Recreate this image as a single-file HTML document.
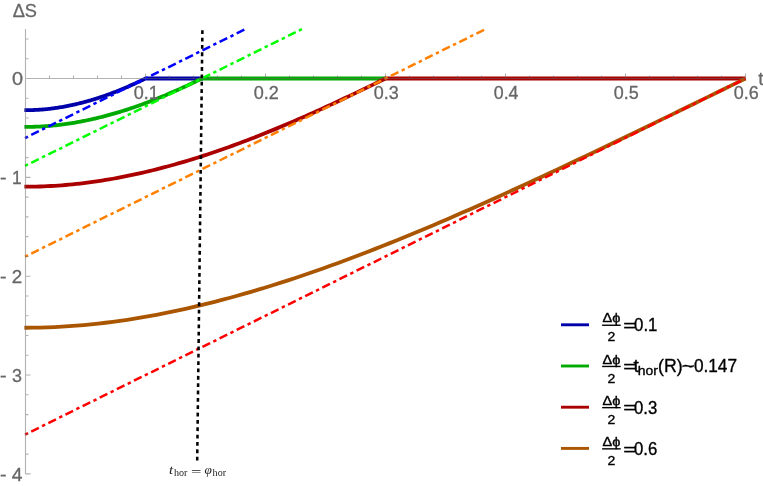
<!DOCTYPE html>
<html><head><meta charset="utf-8"><title>plot</title><style>html,body{margin:0;padding:0;background:#fff;}body{width:763px;height:486px;overflow:hidden;position:relative;font-family:"Liberation Sans",sans-serif;}</style></head><body>
<svg width="763" height="486" viewBox="0 0 763 486" style="will-change:transform;display:block;position:absolute;left:0;top:0">
<rect width="763" height="486" fill="#fff"/>
<path d="M24.40,110.20 L25.50,110.20 L26.71,110.20 L27.92,110.19 L29.14,110.17 L30.35,110.14 L31.56,110.11 L32.77,110.07 L33.98,110.02 L35.20,109.97 L36.41,109.91 L37.62,109.84 L38.83,109.76 L40.05,109.68 L41.26,109.59 L42.47,109.49 L43.68,109.39 L44.89,109.28 L46.11,109.16 L47.32,109.04 L48.53,108.91 L49.74,108.77 L50.95,108.62 L52.17,108.47 L53.38,108.31 L54.59,108.15 L55.80,107.98 L57.02,107.80 L58.23,107.61 L59.44,107.42 L60.65,107.22 L61.86,107.02 L63.08,106.81 L64.29,106.59 L65.50,106.37 L66.71,106.13 L67.92,105.90 L69.14,105.65 L70.35,105.40 L71.56,105.15 L72.77,104.89 L73.98,104.62 L75.20,104.34 L76.41,104.06 L77.62,103.77 L78.83,103.48 L80.05,103.18 L81.26,102.87 L82.47,102.56 L83.68,102.24 L84.89,101.92 L86.11,101.59 L87.32,101.25 L88.53,100.91 L89.74,100.56 L90.95,100.20 L92.17,99.84 L93.38,99.48 L94.59,99.10 L95.80,98.73 L97.02,98.34 L98.23,97.95 L99.44,97.56 L100.65,97.16 L101.86,96.75 L103.08,96.34 L104.29,95.92 L105.50,95.49 L106.71,95.06 L107.92,94.63 L109.14,94.19 L110.35,93.74 L111.56,93.29 L112.77,92.83 L113.98,92.37 L115.20,91.90 L116.41,91.43 L117.62,90.95 L118.83,90.46 L120.05,89.97 L121.26,89.48 L122.47,88.98 L123.68,88.47 L124.89,87.96 L126.11,87.44 L127.32,86.92 L128.53,86.40 L129.74,85.86 L130.95,85.33 L132.17,84.79 L133.38,84.24 L134.59,83.69 L135.80,83.13 L137.02,82.57 L138.23,82.00 L139.44,81.43 L140.65,80.85 L141.86,80.27 L143.08,79.69 L144.29,79.10 L145.50,78.50 L203.10,78.50" stroke="#0000aa" stroke-width="3.8" fill="none" stroke-linejoin="round"/>
<path d="M24.40,126.91 L25.50,126.91 L27.28,126.90 L29.06,126.88 L30.85,126.85 L32.63,126.81 L34.41,126.76 L36.19,126.70 L37.97,126.62 L39.75,126.54 L41.54,126.44 L43.32,126.33 L45.10,126.21 L46.88,126.08 L48.66,125.94 L50.45,125.79 L52.23,125.62 L54.01,125.45 L55.79,125.26 L57.57,125.06 L59.35,124.86 L61.14,124.64 L62.92,124.41 L64.70,124.17 L66.48,123.92 L68.26,123.66 L70.05,123.39 L71.83,123.11 L73.61,122.82 L75.39,122.52 L77.17,122.21 L78.95,121.89 L80.74,121.56 L82.52,121.22 L84.30,120.86 L86.08,120.50 L87.86,120.13 L89.65,119.75 L91.43,119.36 L93.21,118.96 L94.99,118.55 L96.77,118.13 L98.55,117.70 L100.34,117.26 L102.12,116.81 L103.90,116.36 L105.68,115.89 L107.46,115.41 L109.25,114.93 L111.03,114.43 L112.81,113.93 L114.59,113.42 L116.37,112.90 L118.15,112.36 L119.94,111.83 L121.72,111.28 L123.50,110.72 L125.28,110.15 L127.06,109.58 L128.85,109.00 L130.63,108.41 L132.41,107.81 L134.19,107.20 L135.97,106.58 L137.75,105.96 L139.54,105.32 L141.32,104.68 L143.10,104.03 L144.88,103.38 L146.66,102.71 L148.45,102.04 L150.23,101.36 L152.01,100.67 L153.79,99.97 L155.57,99.27 L157.35,98.55 L159.14,97.83 L160.92,97.11 L162.70,96.37 L164.48,95.63 L166.26,94.88 L168.05,94.12 L169.83,93.36 L171.61,92.59 L173.39,91.81 L175.17,91.03 L176.95,90.24 L178.74,89.44 L180.52,88.64 L182.30,87.82 L184.08,87.01 L185.86,86.18 L187.65,85.35 L189.43,84.52 L191.21,83.67 L192.99,82.83 L194.77,81.97 L196.55,81.11 L198.34,80.25 L200.12,79.38 L201.90,78.50 L386.10,78.50" stroke="#00aa00" stroke-width="3.8" fill="none" stroke-linejoin="round"/>
<path d="M24.40,186.72 L25.50,186.72 L29.14,186.71 L32.77,186.66 L36.41,186.59 L40.05,186.49 L43.68,186.36 L47.32,186.20 L50.95,186.01 L54.59,185.80 L58.23,185.56 L61.86,185.29 L65.50,184.99 L69.14,184.67 L72.77,184.32 L76.41,183.94 L80.05,183.53 L83.68,183.10 L87.32,182.65 L90.95,182.17 L94.59,181.66 L98.23,181.13 L101.86,180.57 L105.50,179.99 L109.14,179.38 L112.77,178.75 L116.41,178.09 L120.05,177.41 L123.68,176.71 L127.32,175.98 L130.95,175.23 L134.59,174.46 L138.23,173.66 L141.86,172.84 L145.50,172.00 L149.14,171.13 L152.77,170.25 L156.41,169.34 L160.05,168.41 L163.68,167.46 L167.32,166.49 L170.95,165.49 L174.59,164.48 L178.23,163.44 L181.86,162.39 L185.50,161.32 L189.14,160.22 L192.77,159.11 L196.41,157.97 L200.05,156.82 L203.68,155.65 L207.32,154.46 L210.95,153.25 L214.59,152.03 L218.23,150.78 L221.86,149.52 L225.50,148.24 L229.14,146.94 L232.77,145.63 L236.41,144.30 L240.05,142.95 L243.68,141.59 L247.32,140.21 L250.95,138.81 L254.59,137.40 L258.23,135.98 L261.86,134.54 L265.50,133.08 L269.14,131.61 L272.77,130.13 L276.41,128.63 L280.05,127.12 L283.68,125.59 L287.32,124.05 L290.95,122.50 L294.59,120.93 L298.23,119.36 L301.86,117.77 L305.50,116.16 L309.14,114.55 L312.77,112.93 L316.41,111.29 L320.05,109.64 L323.68,107.99 L327.32,106.32 L330.95,104.64 L334.59,102.96 L338.23,101.26 L341.86,99.55 L345.50,97.84 L349.14,96.12 L352.77,94.39 L356.41,92.65 L360.05,90.90 L363.68,89.15 L367.32,87.39 L370.95,85.63 L374.59,83.85 L378.23,82.07 L381.86,80.29 L385.50,78.50 L745.50,78.50" stroke="#aa0000" stroke-width="3.8" fill="none" stroke-linejoin="round"/>
<path d="M24.40,327.75 L25.50,327.75 L32.77,327.71 L40.05,327.58 L47.32,327.36 L54.59,327.07 L61.86,326.68 L69.14,326.22 L76.41,325.68 L83.68,325.06 L90.95,324.37 L98.23,323.59 L105.50,322.74 L112.77,321.82 L120.05,320.83 L127.32,319.76 L134.59,318.62 L141.86,317.42 L149.14,316.15 L156.41,314.81 L163.68,313.40 L170.95,311.93 L178.23,310.40 L185.50,308.80 L192.77,307.15 L200.05,305.43 L207.32,303.66 L214.59,301.82 L221.86,299.93 L229.14,297.99 L236.41,295.99 L243.68,293.94 L250.95,291.84 L258.23,289.68 L265.50,287.48 L272.77,285.23 L280.05,282.93 L287.32,280.58 L294.59,278.19 L301.86,275.75 L309.14,273.27 L316.41,270.74 L323.68,268.18 L330.95,265.57 L338.23,262.93 L345.50,260.24 L352.77,257.52 L360.05,254.76 L367.32,251.97 L374.59,249.14 L381.86,246.28 L389.14,243.39 L396.41,240.46 L403.68,237.50 L410.95,234.52 L418.23,231.50 L425.50,228.46 L432.77,225.39 L440.05,222.29 L447.32,219.17 L454.59,216.02 L461.86,212.85 L469.14,209.66 L476.41,206.44 L483.68,203.21 L490.95,199.95 L498.23,196.68 L505.50,193.38 L512.77,190.07 L520.05,186.74 L527.32,183.39 L534.59,180.03 L541.86,176.66 L549.14,173.27 L556.41,169.86 L563.68,166.44 L570.95,163.02 L578.23,159.58 L585.50,156.12 L592.77,152.66 L600.05,149.19 L607.32,145.71 L614.59,142.23 L621.86,138.73 L629.14,135.23 L636.41,131.72 L643.68,128.20 L650.95,124.68 L658.23,121.15 L665.50,117.62 L672.77,114.09 L680.05,110.55 L687.32,107.00 L694.59,103.45 L701.86,99.90 L709.14,96.35 L716.41,92.79 L723.68,89.22 L730.95,85.66 L738.23,82.08 L745.50,78.50" stroke="#aa5500" stroke-width="3.8" fill="none" stroke-linejoin="round"/>
<clipPath id="cp"><rect x="24.0" y="29.08" width="723.00" height="444.82"/></clipPath>
<path d="M25.05,138.03L245.50,29.08" stroke="#0000ff" stroke-width="2.5" stroke-dasharray="3.4 3.60 8.5 3.60" stroke-dashoffset="0.10" fill="none"/>
<path d="M25.05,165.91L301.90,29.08" stroke="#00ff00" stroke-width="2.5" stroke-dasharray="3.4 3.60 8.5 3.60" stroke-dashoffset="0.10" fill="none"/>
<path d="M25.05,256.65L485.50,29.08" stroke="#ff8000" stroke-width="2.5" stroke-dasharray="3.4 3.60 8.5 3.60" stroke-dashoffset="0.10" fill="none"/>
<path d="M25.05,434.58L745.50,78.50" stroke="#ff0000" stroke-width="2.5" stroke-dasharray="3.4 3.60 8.5 3.60" stroke-dashoffset="0.10" fill="none"/>
<path d="M202.4,30.3L197.2,460.7" stroke="#000" stroke-width="2.55" stroke-dasharray="3.8 3.553" fill="none"/>
<path d="M25.5,29.08V473.90 M25.5,78.5H745.50 M49.50,78.5v-3.0 M73.50,78.5v-3.0 M97.50,78.5v-3.0 M121.50,78.5v-3.0 M145.50,78.5v-5.0 M169.50,78.5v-3.0 M193.50,78.5v-3.0 M217.50,78.5v-3.0 M241.50,78.5v-3.0 M265.50,78.5v-5.0 M289.50,78.5v-3.0 M313.50,78.5v-3.0 M337.50,78.5v-3.0 M361.50,78.5v-3.0 M385.50,78.5v-5.0 M409.50,78.5v-3.0 M433.50,78.5v-3.0 M457.50,78.5v-3.0 M481.50,78.5v-3.0 M505.50,78.5v-5.0 M529.50,78.5v-3.0 M553.50,78.5v-3.0 M577.50,78.5v-3.0 M601.50,78.5v-3.0 M625.50,78.5v-5.0 M649.50,78.5v-3.0 M673.50,78.5v-3.0 M697.50,78.5v-3.0 M721.50,78.5v-3.0 M745.50,78.5v-5.0 M25.5,473.90h5.0 M25.5,454.13h3.0 M25.5,434.36h3.0 M25.5,414.59h3.0 M25.5,394.82h3.0 M25.5,375.05h5.0 M25.5,355.28h3.0 M25.5,335.51h3.0 M25.5,315.74h3.0 M25.5,295.97h3.0 M25.5,276.20h5.0 M25.5,256.43h3.0 M25.5,236.66h3.0 M25.5,216.89h3.0 M25.5,197.12h3.0 M25.5,177.35h5.0 M25.5,157.58h3.0 M25.5,137.81h3.0 M25.5,118.04h3.0 M25.5,98.27h3.0 M25.5,58.73h3.0 M25.5,38.96h3.0" stroke="#666" stroke-opacity="0.5" stroke-width="1.1" fill="none"/>
<text transform="translate(12.66,16.60) scale(0.9873,1)" font-family="Liberation Sans, sans-serif" font-size="18.5" fill="#666666" stroke="#666666" stroke-width="0.3">ΔS</text>
<text transform="translate(758.32,84.70) scale(1.0160,1)" font-family="Liberation Sans, sans-serif" font-size="18.5" fill="#666666" stroke="#666666" stroke-width="0.3">t</text>
<text transform="translate(133.75,99.35) scale(0.9754,1)" font-family="Liberation Sans, sans-serif" font-size="18.5" fill="#666666" stroke="#666666" stroke-width="0.3">0.1</text>
<text transform="translate(253.74,99.35) scale(0.9765,1)" font-family="Liberation Sans, sans-serif" font-size="18.5" fill="#666666" stroke="#666666" stroke-width="0.3">0.2</text>
<text transform="translate(373.75,99.35) scale(0.9718,1)" font-family="Liberation Sans, sans-serif" font-size="18.5" fill="#666666" stroke="#666666" stroke-width="0.3">0.3</text>
<text transform="translate(493.76,99.35) scale(0.9610,1)" font-family="Liberation Sans, sans-serif" font-size="18.5" fill="#666666" stroke="#666666" stroke-width="0.3">0.4</text>
<text transform="translate(613.75,99.35) scale(0.9704,1)" font-family="Liberation Sans, sans-serif" font-size="18.5" fill="#666666" stroke="#666666" stroke-width="0.3">0.5</text>
<text transform="translate(733.75,99.35) scale(0.9718,1)" font-family="Liberation Sans, sans-serif" font-size="18.5" fill="#666666" stroke="#666666" stroke-width="0.3">0.6</text>
<text transform="translate(12.12,85.30) scale(1.0742,1)" font-family="Liberation Sans, sans-serif" font-size="18.5" fill="#666666" stroke="#666666" stroke-width="0.3">0</text>
<text transform="translate(0.03,184.40) scale(1.0627,1)" font-family="Liberation Sans, sans-serif" font-size="18.5" fill="#666666" stroke="#666666" stroke-width="0.3">-</text>
<text transform="translate(11.97,184.15) scale(0.9403,1)" font-family="Liberation Sans, sans-serif" font-size="18.5" fill="#666666" stroke="#666666" stroke-width="0.3">1</text>
<text transform="translate(0.03,283.25) scale(1.0627,1)" font-family="Liberation Sans, sans-serif" font-size="18.5" fill="#666666" stroke="#666666" stroke-width="0.3">-</text>
<text transform="translate(11.75,283.00) scale(1.0204,1)" font-family="Liberation Sans, sans-serif" font-size="18.5" fill="#666666" stroke="#666666" stroke-width="0.3">2</text>
<text transform="translate(0.03,382.10) scale(1.0627,1)" font-family="Liberation Sans, sans-serif" font-size="18.5" fill="#666666" stroke="#666666" stroke-width="0.3">-</text>
<text transform="translate(12.12,381.85) scale(0.9691,1)" font-family="Liberation Sans, sans-serif" font-size="18.5" fill="#666666" stroke="#666666" stroke-width="0.3">3</text>
<text transform="translate(0.03,480.95) scale(1.0627,1)" font-family="Liberation Sans, sans-serif" font-size="18.5" fill="#666666" stroke="#666666" stroke-width="0.3">-</text>
<text transform="translate(11.86,480.70) scale(1.0405,1)" font-family="Liberation Sans, sans-serif" font-size="18.5" fill="#666666" stroke="#666666" stroke-width="0.3">4</text>
<path d="M561,324.8H589" stroke="#0000aa" stroke-width="2.9"/>
<text transform="translate(602.47,322.30) scale(1.0799,1)" font-family="Liberation Sans, sans-serif" font-size="13.5" fill="#000" stroke="#000" stroke-width="0.35">Δϕ</text>
<path d="M602.1,325.25H620.7" stroke="#000" stroke-width="1.4"/>
<text transform="translate(607.59,341.30) scale(1.0563,1)" font-family="Liberation Sans, sans-serif" font-size="13.3" fill="#000" stroke="#000" stroke-width="0.35">2</text>
<text transform="translate(623.20,331.00) scale(1.3197,1)" font-family="Liberation Sans, sans-serif" font-size="17" fill="#000" stroke="#000" stroke-width="0.35">=</text>
<text transform="translate(634.04,331.30) scale(0.9140,1)" font-family="Liberation Sans, sans-serif" font-size="18.4" fill="#000" stroke="#000" stroke-width="0.35">0.1</text>
<path d="M561,366.0H589" stroke="#00aa00" stroke-width="2.9"/>
<text transform="translate(602.47,363.50) scale(1.0799,1)" font-family="Liberation Sans, sans-serif" font-size="13.5" fill="#000" stroke="#000" stroke-width="0.35">Δϕ</text>
<path d="M602.1,366.45H620.7" stroke="#000" stroke-width="1.4"/>
<text transform="translate(607.59,382.50) scale(1.0563,1)" font-family="Liberation Sans, sans-serif" font-size="13.3" fill="#000" stroke="#000" stroke-width="0.35">2</text>
<text transform="translate(623.20,372.20) scale(1.3197,1)" font-family="Liberation Sans, sans-serif" font-size="17" fill="#000" stroke="#000" stroke-width="0.35">=</text>
<text transform="translate(633.61,372.30) scale(1.0428,1)" font-family="Liberation Sans, sans-serif" font-size="18.4" fill="#000" stroke="#000" stroke-width="0.35">t</text>
<text transform="translate(637.63,375.20) scale(1.0509,1)" font-family="Liberation Sans, sans-serif" font-size="13.3" fill="#000" stroke="#000" stroke-width="0.35">hor</text>
<text transform="translate(658.10,372.30) scale(0.9630,1)" font-family="Liberation Sans, sans-serif" font-size="18.4" fill="#000" stroke="#000" stroke-width="0.35">(R)</text>
<text transform="translate(681.81,372.30) scale(1.1988,1)" font-family="Liberation Sans, sans-serif" font-size="18.4" fill="#000" stroke="#000" stroke-width="0.35">~</text>
<text transform="translate(693.93,372.30) scale(0.9369,1)" font-family="Liberation Sans, sans-serif" font-size="18.4" fill="#000" stroke="#000" stroke-width="0.35">0.147</text>
<path d="M561,407.2H589" stroke="#aa0000" stroke-width="2.9"/>
<text transform="translate(602.47,404.70) scale(1.0799,1)" font-family="Liberation Sans, sans-serif" font-size="13.5" fill="#000" stroke="#000" stroke-width="0.35">Δϕ</text>
<path d="M602.1,407.65H620.7" stroke="#000" stroke-width="1.4"/>
<text transform="translate(607.59,423.70) scale(1.0563,1)" font-family="Liberation Sans, sans-serif" font-size="13.3" fill="#000" stroke="#000" stroke-width="0.35">2</text>
<text transform="translate(623.20,413.40) scale(1.3197,1)" font-family="Liberation Sans, sans-serif" font-size="17" fill="#000" stroke="#000" stroke-width="0.35">=</text>
<text transform="translate(634.05,413.70) scale(0.9106,1)" font-family="Liberation Sans, sans-serif" font-size="18.4" fill="#000" stroke="#000" stroke-width="0.35">0.3</text>
<path d="M561,448.4H589" stroke="#aa5500" stroke-width="2.9"/>
<text transform="translate(602.47,445.90) scale(1.0799,1)" font-family="Liberation Sans, sans-serif" font-size="13.5" fill="#000" stroke="#000" stroke-width="0.35">Δϕ</text>
<path d="M602.1,448.85H620.7" stroke="#000" stroke-width="1.4"/>
<text transform="translate(607.59,464.90) scale(1.0563,1)" font-family="Liberation Sans, sans-serif" font-size="13.3" fill="#000" stroke="#000" stroke-width="0.35">2</text>
<text transform="translate(623.20,454.60) scale(1.3197,1)" font-family="Liberation Sans, sans-serif" font-size="17" fill="#000" stroke="#000" stroke-width="0.35">=</text>
<text transform="translate(634.05,454.90) scale(0.9106,1)" font-family="Liberation Sans, sans-serif" font-size="18.4" fill="#000" stroke="#000" stroke-width="0.35">0.6</text>
<text transform="translate(168.94,474.30) scale(1.1086,1)" font-family="Liberation Serif, sans-serif" font-size="13.5" fill="#222" font-style="italic">t</text>
<text transform="translate(173.90,476.30) scale(1.0651,1)" font-family="Liberation Serif, sans-serif" font-size="9.5" fill="#222">hor</text>
<text transform="translate(190.88,476.40) scale(1.3690,1)" font-family="Liberation Serif, sans-serif" font-size="13.5" fill="#222">=</text>
<text transform="translate(204.50,474.30) scale(0.9855,1)" font-family="Liberation Serif, sans-serif" font-size="13.5" fill="#222" font-style="italic">φ</text>
<text transform="translate(212.60,476.30) scale(1.0651,1)" font-family="Liberation Serif, sans-serif" font-size="9.5" fill="#222">hor</text>
</svg>
</body></html>
